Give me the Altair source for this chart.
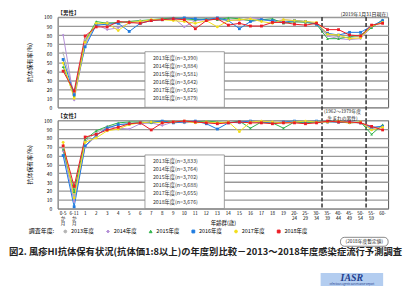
import altair as alt
import pandas as pd

ages = ["0-5か月", "6-11か月", "1", "2", "3", "4", "5", "6", "7", "8", "9", "10", "11", "12", "13",
        "14", "15", "16", "17", "18", "19", "20-24", "25-29", "30-34", "35-39", "40-44", "45-49",
        "50-54", "55-59", "60-"]
years = ["2013年度", "2014年度", "2015年度", "2016年度", "2017年度", "2018年度"]
colors = ["#b4b4b4", "#b38fd6", "#2fb34a", "#1e7be0", "#f2de1c", "#ec1c24"]
shapes = ["circle", "diamond", "triangle-up", "square", "circle", "square"]
point_sizes = [8, 8, 12, 12, 9, 16]
line_widths = [1.0, 1.0, 1.1, 1.1, 1.1, 1.8]

m2013 = [60, 15, 75, 92, 94, 93, 95, 96, 96, 97, 98, 97, 96, 98, 97, 96, 97, 96, 97, 96, 95, 94, 95, 93, 80, 78, 77, 79, 89, 95]
m2014 = [80, 8, 70, 92, 86, 88, 93, 95, 96, 97, 99, 89, 96, 97, 98, 97, 96, 99, 98, 95, 97, 96, 95, 93, 79, 76, 75, 76, 89, 95]
m2015 = [45, 13, 73, 95, 93, 94, 95, 96, 97, 98, 99, 98, 97, 98, 97, 99, 98, 96, 97, 98, 93, 95, 94, 92, 76, 76, 78, 80, 88, 97]
m2016 = [53, 14, 67, 91, 92, 93, 84, 93, 96, 97, 98, 99, 98, 97, 99, 96, 87, 95, 97, 96, 94, 96, 95, 92, 82, 80, 83, 83, 90, 96]
m2017 = [49, 10, 72, 93, 93, 85, 94, 95, 97, 97, 96, 95, 93, 96, 89, 96, 97, 98, 95, 93, 97, 96, 95, 94, 81, 80, 76, 77, 90, 94]
m2018 = [40, 18, 79, 89, 89, 95, 94, 93, 96, 97, 98, 97, 87, 96, 98, 91, 93, 90, 90, 94, 94, 92, 91, 93, 86, 86, 80, 79, 91, 93]

f2013 = [68, 15, 76, 86, 92, 95, 96, 97, 97, 98, 98, 97, 98, 98, 97, 98, 97, 98, 97, 98, 97, 98, 98, 97, 98, 98, 97, 97, 91, 93]
f2014 = [65, 8, 70, 82, 93, 91, 90, 96, 97, 94, 98, 98, 99, 98, 97, 98, 97, 98, 99, 98, 97, 98, 97, 98, 99, 98, 98, 97, 90, 94]
f2015 = [67, 19, 78, 88, 93, 97, 98, 98, 97, 99, 98, 99, 98, 99, 98, 97, 99, 91, 98, 97, 91, 98, 97, 98, 99, 98, 97, 98, 84, 95]
f2016 = [60, 2, 71, 83, 91, 95, 96, 97, 98, 99, 97, 98, 99, 96, 90, 97, 98, 99, 98, 97, 98, 99, 98, 99, 98, 98, 98, 97, 92, 93]
f2017 = [75, 12, 75, 80, 88, 90, 95, 97, 98, 97, 98, 99, 97, 98, 97, 98, 87, 98, 99, 98, 97, 98, 99, 98, 98, 99, 97, 98, 89, 92]
f2018 = [71, 25, 81, 84, 89, 92, 96, 97, 89, 97, 98, 99, 98, 97, 96, 97, 98, 97, 97, 96, 97, 97, 96, 97, 99, 98, 98, 97, 93, 89]

male_n = ["3,390", "3,884", "3,581", "3,642", "3,625", "3,879"]
female_n = ["3,833", "3,764", "3,702", "3,688", "3,655", "3,676"]
boundary_ages = ["35-39", "55-59"]

caption = "図2. 風疹HI抗体保有状況(抗体価1:8以上)の年度別比較－2013～2018年度感染症流行予測調査"


def long_df(series):
    rows = []
    for yr, vals in zip(years, series):
        for a, v in zip(ages, vals):
            rows.append({"age": a, "year": yr, "value": v})
    return pd.DataFrame(rows)


df_m = long_df([m2013, m2014, m2015, m2016, m2017, m2018])
df_f = long_df([f2013, f2014, f2015, f2016, f2017, f2018])

legend = alt.Legend(title="調査年度:", orient="none", legendX=-29, legendY=213,
                    direction="horizontal", columns=6, titleOrient="left",
                    titleFontSize=6, titleFontWeight="normal", titlePadding=8,
                    labelFontSize=5.5, symbolType="stroke", symbolSize=324,
                    symbolStrokeWidth=1.4, columnPadding=10, labelOffset=3, padding=0)

label_expr = ("indexof(datum.value,'か月')>0 ? [replace(datum.value,'か月',''),'か','月'] : "
              "(indexof(datum.value,'-')>0 ? [slice(datum.value,0,indexof(datum.value,'-')+1), "
              "slice(datum.value,indexof(datum.value,'-')+1)] : datum.value)")

one = pd.DataFrame({"k": [0]})


def panel(df, n_list, h, bottom, rule_bottom):
    xs = alt.Scale(type="band", paddingInner=0, paddingOuter=0)
    if bottom:
        xaxis = alt.Axis(title="年齢群(歳)", labelExpr=label_expr, labelFontSize=4.6, labelAngle=0,
                         labelLineHeight=5, ticks=False, domain=False, labelPadding=2,
                         labelBaseline="top", titleFontSize=5.5, titleFontWeight="normal",
                         titleY=12, titleBaseline="top")
    else:
        xaxis = None
    ys = alt.Scale(domain=[0, 100], nice=False)
    yaxis = alt.Axis(values=list(range(0, 101, 10)), grid=True, gridColor="#999999", gridWidth=1.3,
                     domain=False, ticks=False, labelFontSize=5, labelPadding=6,
                     title="抗体保有率(%)", titleFontSize=6, titleFontWeight="normal", titlePadding=11)
    X = lambda bp: alt.X("age:N", sort=ages, scale=xs, axis=xaxis, bandPosition=bp)
    Y = alt.Y("value:Q", scale=ys, axis=yaxis)

    box = alt.Chart(one).mark_rect(fill="white", stroke="#888", strokeWidth=0.8).encode(
        x=alt.value(88), x2=alt.value(168), y=alt.value(35), y2=alt.value(h))
    txt = "\n".join(f"{y}(n={n})" for y, n in zip(years, n_list))
    boxtext = alt.Chart(one).mark_text(align="left", baseline="top", lineBreak="\n", lineHeight=8.2,
                                       fontSize=5.3, color="#333").encode(
        x=alt.value(96), y=alt.value(39), text=alt.value(txt))
    rules = alt.Chart(pd.DataFrame({"age": boundary_ages})).mark_rule(
        strokeDash=[4, 2], color="#333", strokeWidth=1.5).encode(
        x=X(0), y=alt.value(0), y2=alt.value(rule_bottom))
    lines = alt.Chart(df).mark_line().encode(
        x=X(0.5), y=Y,
        color=alt.Color("year:N", scale=alt.Scale(domain=years, range=colors), legend=legend),
        strokeWidth=alt.StrokeWidth("year:O", scale=alt.Scale(domain=years, range=line_widths), legend=None))
    points = alt.Chart(df).mark_point(filled=True, opacity=1, strokeWidth=0).encode(
        x=X(0.5), y=Y,
        fill=alt.Fill("year:N", scale=alt.Scale(domain=years, range=colors), legend=None),
        shape=alt.Shape("year:N", scale=alt.Scale(domain=years, range=shapes), legend=None),
        size=alt.Size("year:O", scale=alt.Scale(domain=years, range=point_sizes), legend=None))
    return [box, boxtext, rules, lines, points]


top_layers = panel(df_m, male_n, 91, False, 104)
pin = alt.Chart(one).mark_rect(opacity=0).encode(
    x=alt.value(-49), x2=alt.value(338), y=alt.value(-7), y2=alt.value(0))
top_title = alt.Chart(one).mark_text(align="left", baseline="middle", fontSize=5.5, fontWeight="bold",
                                     color="#222").encode(x=alt.value(0), y=alt.value(-4),
                                                          text=alt.value("【男性】"))
top_note = alt.Chart(one).mark_text(align="right", baseline="middle", fontSize=5,
                                    color="#222").encode(x=alt.value(333), y=alt.value(-3),
                                                         text=alt.value("(2019年1月31日現在)"))
top = alt.layer(pin, *top_layers, top_title, top_note).properties(width=333, height=91)

bot_layers = panel(df_f, female_n, 89, True, 89)
bot_title = alt.Chart(one).mark_text(align="left", baseline="middle", fontSize=5.5, fontWeight="bold",
                                     color="#222").encode(x=alt.value(0), y=alt.value(-4),
                                                          text=alt.value("【女性】"))
mid_note = alt.Chart(one).mark_text(align="center", baseline="middle", fontSize=4.8, lineBreak="\n",
                                    lineHeight=7, color="#222").encode(
    x=alt.value(287), y=alt.value(-8), text=alt.value("(1962～1979年度\n生まれの男性)"))
cap = alt.Chart(one).mark_text(align="left", baseline="middle", fontSize=9.4, fontWeight="bold",
                               color="#222").encode(x=alt.value(-49), y=alt.value(133),
                                                    text=alt.value(caption))
note_box = alt.Chart(one).mark_rect(fill="white", stroke="#555", strokeWidth=0.7, cornerRadius=4).encode(
    x=alt.value(285), x2=alt.value(333), y=alt.value(118), y2=alt.value(127))
note_txt = alt.Chart(one).mark_text(align="center", baseline="middle", fontSize=4.8, color="#222").encode(
    x=alt.value(309), y=alt.value(122.5), text=alt.value("(2018年度暫定値)"))
logo_box = alt.Chart(one).mark_rect(fill="#b3cdf0").encode(
    x=alt.value(265), x2=alt.value(328), y=alt.value(154), y2=alt.value(167))
logo_txt = alt.Chart(one).mark_text(align="center", baseline="middle", fontSize=10, font="Liberation Serif",
                                    fontStyle="italic", fontWeight="bold", color="#23408e").encode(
    x=alt.value(296.5), y=alt.value(159), text=alt.value("IASR"))
logo_sub = alt.Chart(one).mark_text(align="center", baseline="middle", fontSize=2.6, color="#23408e").encode(
    x=alt.value(296.5), y=alt.value(165), text=alt.value("Infectious Agents Surveillance Report"))
bottom = alt.layer(*bot_layers, bot_title, mid_note, cap, note_box, note_txt, logo_box, logo_txt,
                   logo_sub).properties(width=333, height=89)

chart = alt.vconcat(top, bottom, spacing=13, bounds="flush").properties(
    padding=0
).configure(font="Noto Sans CJK JP").configure_view(stroke="#555", strokeWidth=1)

chart.save("out.html", embed_options={"renderer": "svg", "actions": False})
